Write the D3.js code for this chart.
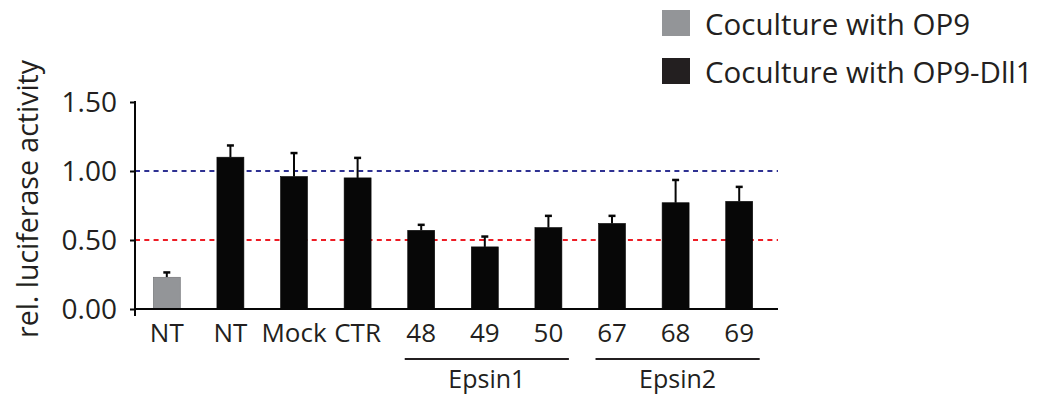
<!DOCTYPE html>
<html>
<head>
<meta charset="utf-8">
<script src="https://cdn.jsdelivr.net/npm/d3@7"></script>
<style>
  html, body { margin: 0; padding: 0; background: #fff; }
  svg { display: block; }
  text { font-family: "Open Sans", "Noto Sans", sans-serif; fill: #231f20; }
</style>
</head>
<body>
<script>
// Luciferase reporter readout, normalised to the NT / OP9-Dll1 control
const categories = ["NT", "NT", "Mock", "CTR", "48", "49", "50", "67", "68", "69"];
const coculture  = ["OP9", "OP9-Dll1", "OP9-Dll1", "OP9-Dll1", "OP9-Dll1", "OP9-Dll1", "OP9-Dll1", "OP9-Dll1", "OP9-Dll1", "OP9-Dll1"];
const means      = [0.23, 1.10, 0.96, 0.95, 0.57, 0.45, 0.59, 0.62, 0.77, 0.78];
const errors     = [0.035, 0.085, 0.17, 0.145, 0.04, 0.075, 0.085, 0.055, 0.165, 0.105];
const yTicks     = [0, 0.5, 1.0, 1.5];
const refLines   = [1.0, 0.5];
const groups     = [{ name: "Epsin1", from: 4, to: 6 }, { name: "Epsin2", from: 7, to: 9 }];
const legendItems = [
  { key: "OP9", label: "Coculture with OP9" },
  { key: "OP9-Dll1", label: "Coculture with OP9-Dll1" }
];

const W = 1037, H = 400;
const colour = d3.scaleOrdinal().domain(["OP9", "OP9-Dll1"]).range(["#939598", "#070707"]);
const legendColour = d3.scaleOrdinal().domain(["OP9", "OP9-Dll1"]).range(["#939598", "#231f20"]);
const refColour = d3.scaleOrdinal().domain([1.0, 0.5]).range(["#2e3192", "#ed1c24"]);

const svg = d3.select("body").append("svg").attr("width", W).attr("height", H);

const plot = { left: 135, right: 778, top: 102, bottom: 309 };

const x = d3.scaleBand()
  .domain(d3.range(categories.length))
  .range([plot.left, plot.right])
  .paddingInner(0.576)
  .paddingOuter(0.343)
  .align(0.42);

const y = d3.scaleLinear().domain([0, 1.5]).range([plot.bottom, plot.top]);

// reference lines
svg.append("g").selectAll("line").data(refLines).join("line")
  .attr("x1", plot.left).attr("x2", plot.right)
  .attr("y1", d => y(d)).attr("y2", d => y(d))
  .attr("stroke", d => refColour(d))
  .attr("stroke-width", 2)
  .attr("stroke-dasharray", "5 4.3");

// error bars (upper whisker only)
const eb = svg.append("g").selectAll("g").data(means).join("g");
eb.append("line")
  .attr("x1", (d, i) => x(i) + x.bandwidth() / 2)
  .attr("x2", (d, i) => x(i) + x.bandwidth() / 2)
  .attr("y1", d => y(d))
  .attr("y2", (d, i) => y(d + errors[i]))
  .attr("stroke", "#070707").attr("stroke-width", 2);
eb.append("line")
  .attr("x1", (d, i) => x(i) + x.bandwidth() / 2 - 3.5)
  .attr("x2", (d, i) => x(i) + x.bandwidth() / 2 + 3.5)
  .attr("y1", (d, i) => y(d + errors[i]))
  .attr("y2", (d, i) => y(d + errors[i]))
  .attr("stroke", "#070707").attr("stroke-width", 2.5);

// bars
svg.append("g").selectAll("rect").data(means).join("rect")
  .attr("x", (d, i) => x(i))
  .attr("width", x.bandwidth())
  .attr("y", d => y(d))
  .attr("height", d => y(0) - y(d))
  .attr("fill", (d, i) => colour(coculture[i]))
  .attr("stroke", (d, i) => i === 0 ? "#6d6e71" : "#070707")
  .attr("stroke-width", 0.6);

// y axis
const yAxis = svg.append("g")
  .attr("transform", `translate(${plot.left},0)`)
  .call(d3.axisLeft(y).tickValues(yTicks).tickFormat(d3.format(".2f")).tickSize(5).tickSizeOuter(0).tickPadding(13));
yAxis.select(".domain").remove();
yAxis.selectAll(".tick line").attr("stroke", "#070707").attr("stroke-width", 2);
yAxis.selectAll(".tick text").attr("font-size", 28).attr("fill", "#070707")
  .attr("font-family", "'Open Sans', sans-serif").attr("dy", "0.34em");
yAxis.append("line")
  .attr("x1", 0).attr("x2", 0)
  .attr("y1", y(1.5) - 1).attr("y2", y(0) + 7)
  .attr("stroke", "#070707").attr("stroke-width", 2);

// x axis
const xAxis = svg.append("g")
  .attr("transform", `translate(0,${plot.bottom})`)
  .call(d3.axisBottom(x).tickFormat(i => categories[i]).tickSize(0).tickSizeOuter(0).tickPadding(15));
xAxis.select(".domain").remove();
xAxis.append("line")
  .attr("x1", plot.left).attr("x2", plot.right)
  .attr("stroke", "#070707").attr("stroke-width", 2);
xAxis.selectAll(".tick text").attr("font-size", 26).attr("fill", "#231f20")
  .attr("font-family", "'Open Sans', sans-serif").attr("dy", "0.71em");

// group brackets
const grp = svg.append("g").selectAll("g").data(groups).join("g");
grp.append("line")
  .attr("x1", d => x(d.from) - 3)
  .attr("x2", d => x(d.to) + x.bandwidth() + 7)
  .attr("y1", 359).attr("y2", 359)
  .attr("stroke", "#231f20").attr("stroke-width", 2);
grp.append("text")
  .attr("x", d => (x(d.from) - 3 + x(d.to) + x.bandwidth() + 7) / 2)
  .attr("y", 388)
  .attr("text-anchor", "middle")
  .attr("font-size", 25)
  .text(d => d.name);

// y axis title
svg.append("text")
  .attr("transform", "translate(38,199) rotate(-90)")
  .attr("text-anchor", "middle")
  .attr("font-size", 28.5)
  .text("rel. luciferase activity");

// legend
const leg = svg.append("g").selectAll("g").data(legendItems).join("g")
  .attr("transform", (d, i) => `translate(662,${10 + i * 48})`);
leg.append("rect").attr("width", 28).attr("height", 26).attr("fill", d => legendColour(d.key));
leg.append("text").attr("x", 43).attr("y", 25).attr("font-size", 29.5).text(d => d.label);
</script>
</body>
</html>
